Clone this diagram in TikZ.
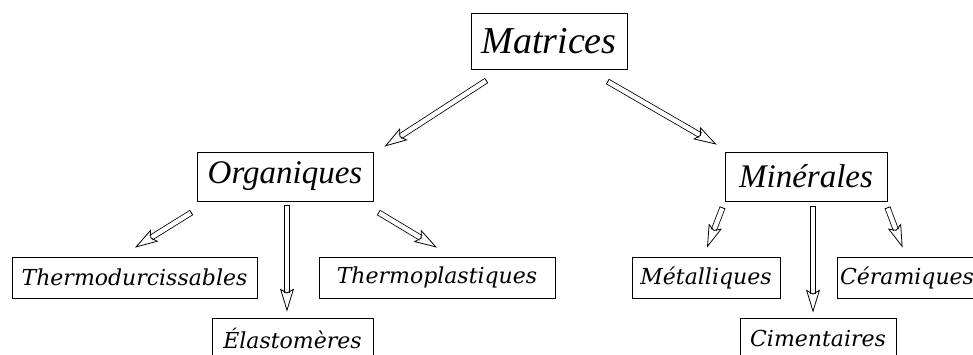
\documentclass[tikz,border=0pt]{standalone}
\usepackage{fontspec}
\setmainfont{Liberation Serif}
\newfontfamily\slabfont{DejaVu Serif}
\usepackage{tikz}
\usetikzlibrary{arrows.meta}

\tikzset{
 box/.style={draw, line width=0.8pt, inner sep=0pt},
 bigbox/.style={box, minimum height=49pt, font=\fontsize{33}{33}\selectfont\itshape},
 smallbox/.style={box, minimum height=41pt, font=\slabfont\fontsize{22}{22}\selectfont\itshape},
 hollow/.style={every edge/.style={draw, double, line width=0.8pt, double distance=4.4pt,
   {Bar[width=6pt, line width=0.8pt]}-{Stealth[open, length=23pt, width=14pt, inset=4pt]}}}
}

\begin{document}
\begin{tikzpicture}[x=1pt, y=-1pt]
 \clip (0,0) rectangle (973,354);
 
 \node[bigbox, minimum width=156pt, minimum height=56pt, font=\fontsize{38}{38}\selectfont\itshape](matrices) at (549,41) {Matrices};
 \node[bigbox, minimum width=176pt](organiques) at (285,176.5) {Organiques};
 \node[bigbox, minimum width=162pt](minerales) at (806,176.5) {Minérales};
 
 \node[smallbox, minimum width=245pt](thermodur) at (134.5,277.5) {Thermodurcissables};
 \node[smallbox, minimum width=236pt](thermoplast) at (437,277.5) {Thermoplastiques};
 \node[smallbox, minimum width=161pt](elasto) at (292.5,338.5) {Élastomères};
 
 \node[smallbox, minimum width=148pt](metal) at (706,277.5) {Métalliques};
 \node[smallbox, minimum width=140pt](ceram) at (907,277.5) {Céramiques};
 \node[smallbox, minimum width=156pt](ciment) at (818,338.5) {Cimentaires};
 
 \path[hollow] ([shift={(16,11)}]matrices.south west) edge ([shift={(11,-5)}]organiques.north east)
               ([shift={(-20,12)}]matrices.south east) edge ([shift={(-8,-7)}]minerales.north west);
 
 \path[hollow] ([shift={(-5,11)}]organiques.south west) edge ([shift={(0.5,-9)}]thermodur.north)
               ([shift={(2,4)}]organiques.south) edge ([shift={(-5.5,-6)}]elasto.north)
               ([shift={(5,11)}]organiques.south east) edge ([shift={(0,-9)}]thermoplast.north);
 
 \path[hollow] ([shift={(-2,6)}]minerales.south west) edge ([shift={(1,-9)}]metal.north)
               ([shift={(7,5)}]minerales.south) edge ([shift={(-5,-5)}]ciment.north)
               ([shift={(0,6)}]minerales.south east) edge ([shift={(66,-9)}]ceram.north west);
 
\end{tikzpicture}
\end{document}
